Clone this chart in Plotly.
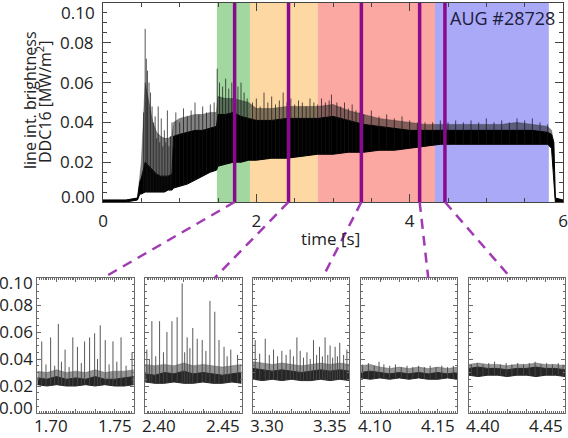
import numpy as np
import plotly.graph_objects as go

W, H = 568, 438

# ---------------- main time trace (envelope) ----------------
t_env = [0.00, 0.30, 0.45, 0.48, 0.50, 0.55, 0.60, 0.65, 0.70, 0.75, 0.80, 0.85, 0.90, 0.92,
         1.00, 1.10, 1.20, 1.30, 1.40, 1.48, 1.50, 1.60, 1.70, 1.80, 1.90, 2.00, 2.20, 2.40,
         2.60, 2.80, 3.00, 3.20, 3.40, 3.60, 3.80, 4.00, 4.20, 4.40, 4.60, 4.80, 5.00, 5.20,
         5.40, 5.60, 5.80, 5.85, 5.88, 5.90, 6.00]
low_env = [0.000, 0.000, 0.001, 0.004, 0.004, 0.005, 0.005, 0.005, 0.005, 0.005, 0.005, 0.006,
           0.006, 0.007, 0.008, 0.009, 0.011, 0.013, 0.015, 0.016, 0.018, 0.019, 0.020, 0.020,
           0.021, 0.021, 0.022, 0.022, 0.023, 0.024, 0.024, 0.025, 0.025, 0.026, 0.026, 0.027,
           0.028, 0.029, 0.029, 0.029, 0.029, 0.029, 0.029, 0.029, 0.029, 0.027, 0.010, 0.000, 0.000]
high_env = [0.001, 0.001, 0.002, 0.010, 0.012, 0.020, 0.018, 0.016, 0.014, 0.013, 0.013, 0.013,
            0.014, 0.033, 0.034, 0.035, 0.036, 0.036, 0.037, 0.038, 0.044, 0.044, 0.045, 0.043,
            0.042, 0.041, 0.041, 0.042, 0.042, 0.042, 0.043, 0.041, 0.039, 0.038, 0.037, 0.036,
            0.036, 0.036, 0.036, 0.036, 0.036, 0.036, 0.036, 0.036, 0.035, 0.034, 0.030, 0.002, 0.001]
haze_env = [0.001, 0.001, 0.002, 0.012, 0.020, 0.060, 0.050, 0.040, 0.035, 0.033, 0.032, 0.032,
            0.033, 0.040, 0.042, 0.043, 0.044, 0.044, 0.045, 0.045, 0.053, 0.052, 0.052, 0.051,
            0.050, 0.047, 0.047, 0.048, 0.048, 0.048, 0.049, 0.046, 0.044, 0.042, 0.041, 0.040,
            0.039, 0.039, 0.039, 0.039, 0.039, 0.039, 0.040, 0.039, 0.038, 0.036, 0.030, 0.002, 0.001]

spike_t = [0.53, 0.55, 0.565, 0.58, 0.60, 0.62, 0.64, 0.66, 0.68, 0.70, 0.72, 0.74, 0.76, 0.78,
           0.80, 0.82, 0.84, 0.86, 0.88, 0.90,
           0.95, 1.00, 1.05, 1.10, 1.15, 1.20, 1.25, 1.30, 1.35, 1.40, 1.45,
           1.49, 1.52, 1.56, 1.60, 1.64, 1.68, 1.72, 1.76, 1.80, 1.84, 1.88,
           1.95, 2.00, 2.05, 2.10, 2.15, 2.20, 2.25, 2.30, 2.35, 2.40, 2.45, 2.50, 2.55,
           2.60, 2.65, 2.70, 2.75, 2.80, 2.85, 2.90, 2.95, 2.98, 3.05, 3.10, 3.15, 3.20,
           3.25, 3.30, 3.35, 3.40, 3.50, 3.60, 3.70, 3.80, 3.90, 4.00, 4.10, 4.20, 4.30,
           4.40, 4.50, 4.60, 4.70, 4.80, 4.90, 5.00, 5.10, 5.20, 5.30, 5.40, 5.50, 5.60,
           5.70, 5.80]
spike_v = [0.045, 0.087, 0.072, 0.066, 0.060, 0.055, 0.048, 0.040, 0.043, 0.032, 0.048, 0.030,
           0.042, 0.028, 0.036, 0.030, 0.046, 0.028, 0.033, 0.040,
           0.045, 0.040, 0.047, 0.043, 0.046, 0.050, 0.044, 0.048, 0.045, 0.049, 0.050,
           0.067, 0.060, 0.058, 0.062, 0.057, 0.060, 0.055, 0.058, 0.060, 0.055, 0.052,
           0.050, 0.052, 0.048, 0.055, 0.050, 0.053, 0.049, 0.051, 0.055, 0.050, 0.052, 0.049, 0.051,
           0.050, 0.048, 0.052, 0.050, 0.049, 0.052, 0.050, 0.051, 0.054, 0.050, 0.048, 0.050, 0.047,
           0.049, 0.046, 0.045, 0.044, 0.046, 0.043, 0.044, 0.042, 0.043, 0.041, 0.040, 0.040, 0.040,
           0.041, 0.040, 0.041, 0.040, 0.041, 0.040, 0.042, 0.040, 0.041, 0.040, 0.042, 0.041, 0.042,
           0.040, 0.039]

# phases (shaded) and zoom markers
region_start = [1.486, 1.917, 2.80, 4.33]
region_end = [1.917, 2.80, 4.33, 5.815]
region_color = ["#a2d8a0", "#fdd8a2", "#fca8a2", "#a9a9f7"]
marker_t = [1.717, 2.42, 3.37, 4.13, 4.46]
connector_end_t = [1.734, 2.436, 3.336, 4.135, 4.422]

# ---------------- zoomed windows ----------------
panel_start = [1.70, 2.40, 3.30, 4.10, 4.40]
panel_band_t = [
    [1.700, 1.705, 1.710, 1.715, 1.720, 1.725, 1.730, 1.735, 1.740, 1.745, 1.750],
    [2.400, 2.405, 2.410, 2.415, 2.420, 2.425, 2.430, 2.435, 2.440, 2.445, 2.450],
    [3.300, 3.305, 3.310, 3.315, 3.320, 3.325, 3.330, 3.335, 3.340, 3.345, 3.350],
    [4.100, 4.105, 4.110, 4.115, 4.120, 4.125, 4.130, 4.135, 4.140, 4.145, 4.150],
    [4.400, 4.405, 4.410, 4.415, 4.420, 4.425, 4.430, 4.435, 4.440, 4.445, 4.450],
]
panel_low = [
    [0.021, 0.020, 0.021, 0.020, 0.020, 0.021, 0.020, 0.021, 0.020, 0.020, 0.021],
    [0.023, 0.022, 0.022, 0.023, 0.022, 0.022, 0.023, 0.022, 0.022, 0.023, 0.022],
    [0.025, 0.024, 0.025, 0.024, 0.025, 0.024, 0.024, 0.025, 0.024, 0.025, 0.024],
    [0.026, 0.025, 0.026, 0.025, 0.026, 0.025, 0.026, 0.025, 0.025, 0.026, 0.025],
    [0.028, 0.027, 0.028, 0.028, 0.027, 0.028, 0.028, 0.027, 0.028, 0.028, 0.027],
]
panel_high = [
    [0.026, 0.025, 0.027, 0.025, 0.026, 0.025, 0.027, 0.025, 0.025, 0.026, 0.027],
    [0.029, 0.028, 0.030, 0.029, 0.031, 0.029, 0.030, 0.029, 0.028, 0.029, 0.030],
    [0.033, 0.032, 0.031, 0.032, 0.031, 0.030, 0.031, 0.032, 0.031, 0.032, 0.031],
    [0.030, 0.031, 0.030, 0.029, 0.030, 0.029, 0.030, 0.029, 0.030, 0.029, 0.030],
    [0.033, 0.034, 0.033, 0.033, 0.032, 0.033, 0.033, 0.034, 0.033, 0.033, 0.032],
]
panel_haze = [
    [0.031, 0.030, 0.032, 0.030, 0.031, 0.030, 0.032, 0.030, 0.031, 0.031, 0.032],
    [0.036, 0.035, 0.036, 0.035, 0.037, 0.035, 0.036, 0.035, 0.034, 0.035, 0.036],
    [0.038, 0.037, 0.036, 0.037, 0.036, 0.035, 0.036, 0.037, 0.036, 0.037, 0.036],
    [0.035, 0.036, 0.034, 0.033, 0.034, 0.033, 0.034, 0.033, 0.034, 0.033, 0.034],
    [0.036, 0.037, 0.036, 0.036, 0.035, 0.036, 0.036, 0.037, 0.036, 0.036, 0.035],
]
panel_spike_t = [
    [1.7023, 1.7045, 1.7069, 1.7090, 1.7109, 1.7125, 1.7144, 1.7165, 1.7184, 1.7208, 1.7228,
     1.7245, 1.7271, 1.7297, 1.7312, 1.7326, 1.7352, 1.7372, 1.7392, 1.7412, 1.7434, 1.7460, 1.7491],
    [2.4009, 2.4022, 2.4035, 2.4055, 2.4075, 2.4095, 2.4113, 2.4139, 2.4166, 2.4192, 2.4205,
     2.4218, 2.4232, 2.4247, 2.4270, 2.4296, 2.4315, 2.4336, 2.4361, 2.4383, 2.4409, 2.4425,
     2.4444, 2.4479],
    [3.3012, 3.3035, 3.3064, 3.3085, 3.3107, 3.3128, 3.3150, 3.3172, 3.3193, 3.3210, 3.3228,
     3.3245, 3.3262, 3.3280, 3.3297, 3.3314, 3.3330, 3.3345, 3.3360, 3.3374, 3.3388, 3.3400,
     3.3413, 3.3426, 3.3438, 3.3450, 3.3470, 3.3487],
    [4.1010, 4.1040, 4.1070, 4.1095, 4.1120, 4.1150, 4.1180, 4.1210, 4.1240, 4.1270, 4.1300,
     4.1330, 4.1360, 4.1390, 4.1420, 4.1450, 4.1480],
    [4.4015, 4.4045, 4.4075, 4.4105, 4.4135, 4.4165, 4.4195, 4.4225, 4.4255, 4.4285, 4.4315,
     4.4345, 4.4375, 4.4405, 4.4435, 4.4465, 4.4490],
]
panel_spike_v = [
    [0.053, 0.036, 0.056, 0.035, 0.066, 0.038, 0.047, 0.034, 0.056, 0.049, 0.037, 0.053, 0.056,
     0.059, 0.040, 0.065, 0.054, 0.036, 0.053, 0.038, 0.056, 0.035, 0.045],
    [0.047, 0.040, 0.068, 0.042, 0.068, 0.045, 0.060, 0.068, 0.071, 0.096, 0.045, 0.056, 0.048,
     0.063, 0.055, 0.054, 0.046, 0.083, 0.075, 0.054, 0.049, 0.042, 0.047, 0.043],
    [0.054, 0.044, 0.055, 0.043, 0.047, 0.042, 0.046, 0.043, 0.047, 0.042, 0.056, 0.046, 0.041,
     0.045, 0.040, 0.054, 0.043, 0.049, 0.042, 0.056, 0.043, 0.050, 0.041, 0.049, 0.042, 0.052,
     0.043, 0.047],
    [0.036, 0.037, 0.035, 0.038, 0.036, 0.035, 0.036, 0.034, 0.035, 0.034, 0.035, 0.034, 0.035,
     0.034, 0.035, 0.034, 0.035],
    [0.036, 0.037, 0.036, 0.037, 0.038, 0.036, 0.037, 0.036, 0.037, 0.036, 0.037, 0.038, 0.036,
     0.037, 0.036, 0.037, 0.036],
]
panel_width_t = 0.05

y_ticks = [0.02, 0.04, 0.06, 0.08]
x_ticks_top = [0, 2, 4, 6]

# ---------------- layout geometry (pixels -> paper) ----------------
def px(x):
    return x / W

def py(y):
    return 1 - y / H

top_x = [px(103), px(563)]
top_y = [py(202), py(3)]
bot_y = [py(413), py(278)]
panel_left_px = [37.3, 145.1, 252.9, 360.7, 468.5]
panel_w_px = 96.5

FONT = "Open Sans"
TXT = "#222222"
FR = "#444444"
FR2 = "#6a6a6a"

fig = go.Figure()

def spike_xy(ts, vs, base_t, base_v):
    xs, ys = [], []
    for t, v in zip(ts, vs):
        b = float(np.interp(t, base_t, base_v))
        xs += [t, t, None]
        ys += [b, v, None]
    return xs, ys

def band(xa, ya, t, lo, hi, hz, core, haze, spk_t, spk_v, spk_col, spk_w):
    fig.add_trace(go.Scatter(x=t, y=hi, mode="lines", line=dict(color=haze, width=0),
                             xaxis=xa, yaxis=ya, hoverinfo="skip", showlegend=False))
    fig.add_trace(go.Scatter(x=t, y=hz, mode="lines", line=dict(color=haze, width=0.6),
                             fill="tonexty", fillcolor=haze,
                             xaxis=xa, yaxis=ya, hoverinfo="skip", showlegend=False))
    fig.add_trace(go.Scatter(x=t, y=lo, mode="lines", line=dict(color=core, width=1),
                             xaxis=xa, yaxis=ya, hoverinfo="skip", showlegend=False))
    fig.add_trace(go.Scatter(x=t, y=hi, mode="lines", line=dict(color=core, width=1),
                             fill="tonexty", fillcolor=core,
                             xaxis=xa, yaxis=ya, hoverinfo="skip", showlegend=False))
    sx, sy = spike_xy(spk_t, spk_v, t, lo)
    fig.add_trace(go.Scatter(x=sx, y=sy, mode="lines", line=dict(color=spk_col, width=spk_w),
                             xaxis=xa, yaxis=ya, hoverinfo="skip", showlegend=False))

band("x", "y", t_env, low_env, high_env, haze_env, "black", "rgba(30,30,30,0.55)",
     spike_t, spike_v, "rgba(20,20,20,0.8)", 0.9)
for i in range(5):
    band("x%d" % (i + 2), "y%d" % (i + 2), panel_band_t[i], panel_low[i], panel_high[i],
         panel_haze[i], "#262626", "rgba(60,60,60,0.55)",
         panel_spike_t[i], panel_spike_v[i], "rgba(70,70,70,0.9)", 1)

# shaded phases
for a, b, c in zip(region_start, region_end, region_color):
    fig.add_shape(type="rect", xref="x", yref="y domain", x0=a, x1=b, y0=0, y1=1,
                  fillcolor=c, line_width=0, layer="below")
# purple markers
for t in marker_t:
    fig.add_shape(type="line", xref="x", yref="y domain", x0=t, x1=t, y0=0, y1=1,
                  line=dict(color="#8a0a8e", width=3.5), layer="above")
# dashed connectors
for i, (t, te) in enumerate(zip(marker_t, connector_end_t)):
    x0 = top_x[0] + (t - 0) / 6.0 * (top_x[1] - top_x[0])
    pl = px(panel_left_px[i])
    pw = px(panel_w_px)
    x1 = pl + (te - panel_start[i]) / panel_width_t * pw
    fig.add_shape(type="line", xref="paper", yref="paper", x0=x0, y0=top_y[0], x1=x1, y1=bot_y[1],
                  line=dict(color="#a23ab4", width=2.5, dash="10px,7px"), layer="above")

layout = dict(
    width=W, height=H, margin=dict(l=0, r=0, t=0, b=0, pad=0, autoexpand=False),
    paper_bgcolor="white", plot_bgcolor="rgba(0,0,0,0)",
    font=dict(family=FONT, size=17, color=TXT),
    showlegend=False,
    xaxis=dict(domain=top_x, range=[0, 6], tickvals=x_ticks_top, ticktext=[str(v) for v in x_ticks_top],
               ticks="inside", ticklen=8, tickwidth=1, tickcolor=FR, showline=True, linecolor=FR,
               linewidth=1, mirror="ticks", showgrid=False, zeroline=False, automargin=False,
               minor=dict(dtick=0.5, ticks="inside", ticklen=4, tickcolor=FR, showgrid=False),
               tickfont=dict(size=17, color=TXT), anchor="y", ticklabelstandoff=4),
    yaxis=dict(domain=top_y, range=[0, 0.1], tickvals=y_ticks, ticktext=["%.2f" % v for v in y_ticks],
               ticks="inside", ticklen=8, tickwidth=1, tickcolor=FR, showline=True, linecolor=FR,
               linewidth=1, mirror="ticks", showgrid=False, zeroline=False, automargin=False,
               minor=dict(dtick=0.005, ticks="inside", ticklen=4, tickcolor=FR, showgrid=False),
               tickfont=dict(size=17, color=TXT), anchor="x", ticklabelstandoff=5),
)
for i in range(5):
    n = i + 2
    d0 = px(panel_left_px[i])
    layout["xaxis%d" % n] = dict(
        domain=[d0, d0 + px(panel_w_px)], range=[panel_start[i], panel_start[i] + panel_width_t],
        showticklabels=False, ticks="inside", ticklen=4, tickcolor=FR2, dtick=0.01,
        tick0=panel_start[i], showline=True, linecolor=FR2, linewidth=1, mirror="ticks",
        showgrid=False, zeroline=False, anchor="y%d" % n, automargin=False,
        minor=dict(dtick=0.001, ticks="inside", ticklen=2, tickcolor=FR2, showgrid=False))
    ydict = dict(
        domain=bot_y, range=[0, 0.1], tickvals=y_ticks,
        showticklabels=(i == 0), ticks="inside", ticklen=4, tickcolor=FR2,
        showline=True, linecolor=FR2, linewidth=1, mirror="ticks", showgrid=False,
        zeroline=False, anchor="x%d" % n, automargin=False,
        minor=dict(dtick=0.005, ticks="inside", ticklen=2, tickcolor=FR2, showgrid=False))
    if i == 0:
        ydict.update(ticktext=["%.2f" % v for v in y_ticks], ticklabelstandoff=0,
                     tickfont=dict(size=17, color=TXT))
    layout["yaxis%d" % n] = ydict
fig.update_layout(**layout)

ann = []
def A(text, x, y, xa="center", ya="middle", size=17, angle=0, color=TXT):
    ann.append(dict(text=text, x=px(x), y=py(y), xref="paper", yref="paper", xanchor=xa,
                    yanchor=ya, showarrow=False, textangle=angle,
                    font=dict(family=FONT, size=size, color=color)))

A("AUG #28728", 557, 18, xa="right", size=18, color="#1c1c3a")
A("line int. brightness", 30, 100, size=16, angle=-90)
A("DDC16 [MW/m<sup>2</sup>]", 44, 102, size=16, angle=-90)
A("time [s]", 331, 238)
A("0.10", 97, 12, xa="right")
A("0.00", 97, 197, xa="right")
A("0.10", 35, 282, xa="right")
A("0.00", 35, 407, xa="right")
for i in range(5):
    A("%.2f" % panel_start[i], panel_left_px[i] - 5, 425, xa="left")
    A("%.2f" % (panel_start[i] + panel_width_t), panel_left_px[i] + panel_w_px, 425, xa="right")
fig.update_layout(annotations=ann)

fig.write_html("out.html", config={"displayModeBar": False},
               post_script="document.body.style.margin='0';document.body.style.overflow='hidden';")
